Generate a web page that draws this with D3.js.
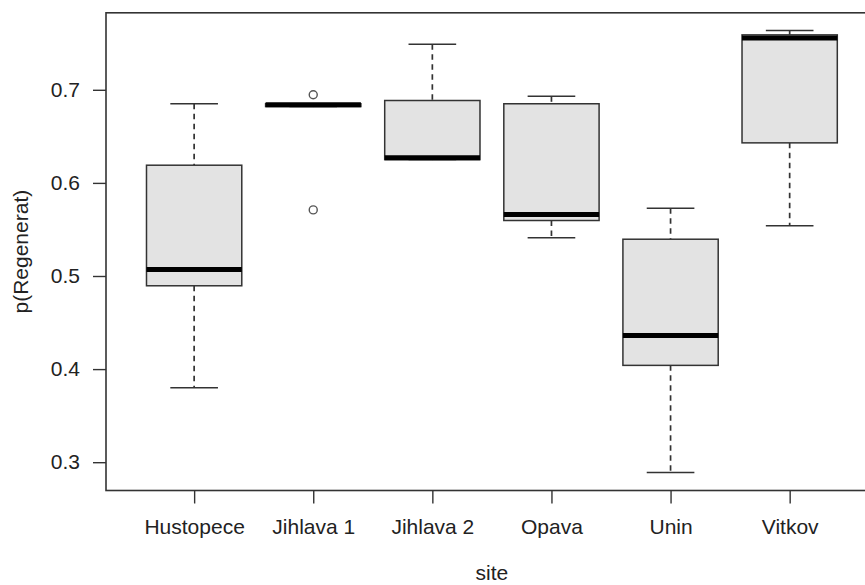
<html>
<script src="https://cdnjs.cloudflare.com/ajax/libs/d3/7.8.5/d3.min.js"></script>
<body style="margin:0; background:white;">
  <div id="graph"></div>
</body>
<script>
  // boxplot stats per site
  var sites = ["Hustopece", "Jihlava 1", "Jihlava 2", "Opava", "Unin", "Vitkov"]
  var lowWhisker = [0.380, 0.682, 0.625, 0.541, 0.289, 0.554]
  var q1 = [0.4895, 0.682, 0.625, 0.5596, 0.404, 0.643]
  var median = [0.507, 0.684, 0.627, 0.566, 0.436, 0.7555]
  var q3 = [0.619, 0.685, 0.6885, 0.685, 0.5395, 0.759]
  var highWhisker = [0.685, 0.685, 0.749, 0.693, 0.5728, 0.7637]
  var outlierSite = ["Jihlava 1", "Jihlava 1"]
  var outlierValue = [0.6947, 0.571]
  var yTicks = [0.3, 0.4, 0.5, 0.6, 0.7]

  var W = 865, H = 585
  var ink = "#333"
  var font = "'Liberation Sans', Arial, sans-serif"
  var fs = "21px"

  var svg = d3.select("#graph").append("svg")
    .attr("width", W).attr("height", H)
    .style("font-family", font)

  // R style: x from 0.5..6.5 padded 4%, y data range padded 4%
  var X = d3.scaleLinear().domain([0.26, 6.74]).range([106, 877.8])
  var Y = d3.scaleLinear().domain([0.2696, 0.7827]).range([490.5, 12.8])
  var pos = function(s) { return sites.indexOf(s) + 1 }
  var boxW = (X(1.4) - X(0.6))

  var data = sites.map(function(s, i) {
    return {site: s, lo: lowWhisker[i], q1: q1[i], med: median[i], q3: q3[i], hi: highWhisker[i]}
  })

  var g = svg.selectAll("g.box").data(data).enter().append("g").attr("class", "box")

  // whiskers (dashed)
  g.append("line")
    .attr("x1", function(d) { return X(pos(d.site)) }).attr("x2", function(d) { return X(pos(d.site)) })
    .attr("y1", function(d) { return Y(d.hi) }).attr("y2", function(d) { return Y(d.q3) })
    .style("stroke", ink).style("stroke-width", 1.7).style("stroke-dasharray", "5.5,4.5")
  g.append("line")
    .attr("x1", function(d) { return X(pos(d.site)) }).attr("x2", function(d) { return X(pos(d.site)) })
    .attr("y1", function(d) { return Y(d.q1) }).attr("y2", function(d) { return Y(d.lo) })
    .style("stroke", ink).style("stroke-width", 1.7).style("stroke-dasharray", "5.5,4.5")

  // caps
  ;["hi", "lo"].forEach(function(k) {
    g.append("line")
      .attr("x1", function(d) { return X(pos(d.site)) - boxW / 4 })
      .attr("x2", function(d) { return X(pos(d.site)) + boxW / 4 })
      .attr("y1", function(d) { return Y(d[k]) }).attr("y2", function(d) { return Y(d[k]) })
      .style("stroke", ink).style("stroke-width", 1.5)
  })

  // boxes
  g.append("rect")
    .attr("x", function(d) { return X(pos(d.site)) - boxW / 2 })
    .attr("width", boxW)
    .attr("y", function(d) { return Y(d.q3) })
    .attr("height", function(d) { return Y(d.q1) - Y(d.q3) })
    .style("fill", "#e3e3e3").style("stroke", ink).style("stroke-width", 1.5)

  // medians
  g.append("line")
    .attr("x1", function(d) { return X(pos(d.site)) - boxW / 2 })
    .attr("x2", function(d) { return X(pos(d.site)) + boxW / 2 })
    .attr("y1", function(d) { return Y(d.med) }).attr("y2", function(d) { return Y(d.med) })
    .style("stroke", "black").style("stroke-width", 5)

  // outliers
  svg.selectAll("circle.out").data(outlierValue).enter().append("circle")
    .attr("class", "out")
    .attr("cx", function(d, i) { return X(pos(outlierSite[i])) })
    .attr("cy", function(d) { return Y(d) })
    .attr("r", 4)
    .style("fill", "none").style("stroke", "#555").style("stroke-width", 1.4)

  // frame (right side runs off the picture)
  svg.append("rect")
    .attr("x", X.range()[0]).attr("y", Y.range()[1])
    .attr("width", X.range()[1] - X.range()[0]).attr("height", Y.range()[0] - Y.range()[1])
    .style("fill", "none").style("stroke", ink).style("stroke-width", 1.6)

  // y axis
  var yAxis = svg.append("g").attr("transform", "translate(" + X.range()[0] + ",0)")
    .call(d3.axisLeft(Y).tickValues(yTicks).tickSize(13).tickPadding(13).tickFormat(d3.format(".1f")))
  yAxis.select(".domain").remove()
  yAxis.selectAll("line").style("stroke", ink).style("stroke-width", 1.4)
  yAxis.selectAll("text").style("font-size", fs).style("font-family", font).style("fill", "#222")

  // x axis
  var xAxis = svg.append("g").attr("transform", "translate(0," + Y.range()[0] + ")")
    .call(d3.axisBottom(X).tickValues(sites.map(pos)).tickSize(13).tickPadding(16)
      .tickFormat(function(d) { return sites[d - 1] }))
  xAxis.select(".domain").remove()
  xAxis.selectAll("line").style("stroke", ink).style("stroke-width", 1.4)
  xAxis.selectAll("text").style("font-size", fs).style("font-family", font).style("fill", "#222")

  // axis titles
  svg.append("text")
    .attr("x", X(3.5)).attr("y", 580)
    .attr("text-anchor", "middle")
    .style("font-size", fs).style("fill", "#222")
    .text("site")
  svg.append("text")
    .attr("transform", "translate(28," + ((Y.range()[0] + Y.range()[1]) / 2) + ") rotate(-90)")
    .attr("text-anchor", "middle")
    .style("font-size", fs).style("fill", "#222")
    .text("p(Regenerat)")
</script>
</html>
